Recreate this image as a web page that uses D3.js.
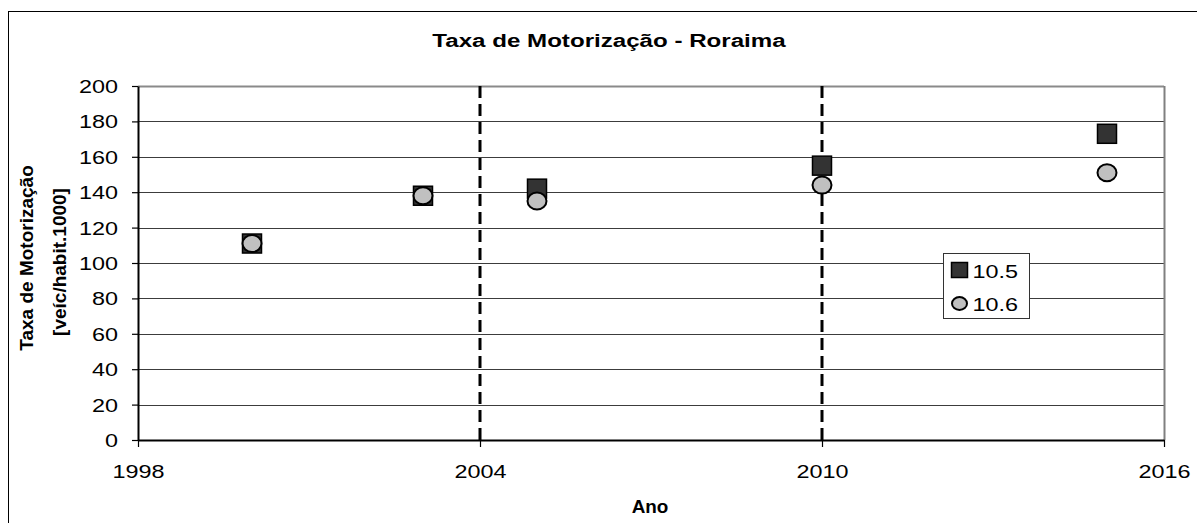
<!DOCTYPE html>
<html>
<head>
<meta charset="utf-8">
<script src="https://cdn.jsdelivr.net/npm/d3@7"></script>
<style>
  html, body { margin: 0; padding: 0; background: #fff; }
  svg { display: block; font-family: "Liberation Sans", Arial, sans-serif; }
</style>
</head>
<body>
<svg id="chart" width="1197" height="523"></svg>
<script>
// Taxa de motorização de Roraima, duas séries (10.5 e 10.6)
const years = [2000, 2003, 2005, 2010, 2015];
const serie105 = [111, 138, 142, 155, 173];
const serie106 = [111, 138, 135, 144, 151];
const xTicks = [1998, 2004, 2010, 2016];
const yTicks = [0, 20, 40, 60, 80, 100, 120, 140, 160, 180, 200];
const dashedYears = [2004, 2010];
const seriesNames = ["10.5", "10.6"];

const svg = d3.select("#chart");
const W = 1197, H = 523;
const plot = { left: 138, right: 1164, top: 86, bottom: 440 };
const SX = 1.3; // horizontal stretch of the text glyphs

const x = d3.scaleLinear().domain([1998, 2016]).range([plot.left, plot.right]);
const y = d3.scaleLinear().domain([0, 200]).range([plot.bottom, plot.top]);

svg.append("rect").attr("width", W).attr("height", H).attr("fill", "#fff");

// outer frame
svg.append("rect")
  .attr("x", 8.5).attr("y", 11.5)
  .attr("width", W + 20).attr("height", H + 20)
  .attr("fill", "none").attr("stroke", "#000").attr("stroke-width", 1);

// stretched horizontal text helper
function label(g, txt, px, py, opts) {
  const o = Object.assign({ size: 18, weight: "normal", anchor: "middle", sx: SX }, opts || {});
  return g.append("text")
    .attr("transform", `translate(${px},${py}) scale(${o.sx},1)`)
    .attr("text-anchor", o.anchor)
    .attr("font-size", o.size)
    .attr("font-weight", o.weight)
    .attr("fill", "#000")
    .text(txt);
}

// horizontal grid lines
svg.append("g").selectAll("line")
  .data(yTicks.filter(v => v > 0))
  .join("line")
  .attr("x1", plot.left).attr("x2", plot.right)
  .attr("y1", d => Math.round(y(d)) + 0.5).attr("y2", d => Math.round(y(d)) + 0.5)
  .attr("stroke", d => d === 200 ? "#8a8a8a" : "#3c3c3c")
  .attr("stroke-width", d => d === 200 ? 2 : 1);

// right edge of the plot area
svg.append("line")
  .attr("x1", plot.right + 0.5).attr("x2", plot.right + 0.5)
  .attr("y1", plot.top).attr("y2", plot.bottom)
  .attr("stroke", "#808080").attr("stroke-width", 2);

// vertical dashed reference lines
svg.append("g").selectAll("line")
  .data(dashedYears)
  .join("line")
  .attr("x1", d => x(d)).attr("x2", d => x(d))
  .attr("y1", plot.top).attr("y2", plot.bottom)
  .attr("stroke", "#000").attr("stroke-width", 3)
  .attr("stroke-dasharray", "12,6");

// y axis
const yAxis = svg.append("g")
  .attr("transform", `translate(${plot.left},0)`)
  .call(d3.axisLeft(y).tickValues(yTicks).tickSize(6).tickSizeOuter(0).tickPadding(0));
yAxis.select(".domain").attr("stroke", "#000").attr("stroke-width", 2);
yAxis.selectAll(".tick line").attr("stroke", "#000").attr("stroke-width", 1.2);
yAxis.selectAll(".tick text").remove();
yAxis.selectAll(".tick").each(function (d) {
  label(d3.select(this), d, -20, 6.5, { anchor: "end" });
});

// x axis
const xAxis = svg.append("g")
  .attr("transform", `translate(0,${plot.bottom})`)
  .call(d3.axisBottom(x).tickValues(xTicks).tickSize(7).tickSizeOuter(0).tickFormat(d3.format("d")));
xAxis.select(".domain").attr("stroke", "#000").attr("stroke-width", 2);
xAxis.selectAll(".tick line").attr("stroke", "#000").attr("stroke-width", 1.2);
xAxis.selectAll(".tick text").remove();
xAxis.selectAll(".tick").each(function (d) {
  label(d3.select(this), d3.format("d")(d), 0, 38);
});

// series 10.5 : dark squares
const sq = 19;
svg.append("g").selectAll("rect")
  .data(years.map((yr, i) => ({ yr, v: serie105[i] })))
  .join("rect")
  .attr("x", d => x(d.yr) - sq / 2).attr("y", d => y(d.v) - sq / 2)
  .attr("width", sq).attr("height", sq)
  .attr("fill", "#333").attr("stroke", "#000").attr("stroke-width", 1.5);

// series 10.6 : grey circles
svg.append("g").selectAll("ellipse")
  .data(years.map((yr, i) => ({ yr, v: serie106[i] })))
  .join("ellipse")
  .attr("cx", d => x(d.yr)).attr("cy", d => y(d.v))
  .attr("rx", 9.5).attr("ry", 8.5)
  .attr("fill", "#c0c0c0").attr("stroke", "#000").attr("stroke-width", 2);

// legend
const lg = svg.append("g").attr("transform", "translate(943.5,253.5)");
lg.append("rect").attr("width", 86).attr("height", 65)
  .attr("fill", "#fff").attr("stroke", "#333").attr("stroke-width", 1);
lg.append("rect").attr("x", 8).attr("y", 9).attr("width", 16).attr("height", 15)
  .attr("fill", "#333").attr("stroke", "#000").attr("stroke-width", 1.5);
lg.append("ellipse").attr("cx", 16).attr("cy", 50).attr("rx", 7.5).attr("ry", 6.5)
  .attr("fill", "#c0c0c0").attr("stroke", "#000").attr("stroke-width", 2);
label(lg, seriesNames[0], 29, 24, { anchor: "start" });
label(lg, seriesNames[1], 29, 57, { anchor: "start" });

// titles
label(svg, "Taxa de Motorização - Roraima", 609, 47, { size: 19, weight: "bold", sx: 1.27 });
label(svg, "Ano", 650, 513, { size: 18, weight: "bold", sx: 1.05 });

const yt = svg.append("g").attr("transform", "translate(0,258)");
yt.append("text").attr("transform", "translate(33,0) rotate(-90)")
  .attr("text-anchor", "middle").attr("font-size", 19).attr("font-weight", "bold")
  .text("Taxa de Motorização");
yt.append("text").attr("transform", "translate(66,4) rotate(-90)")
  .attr("text-anchor", "middle").attr("font-size", 19).attr("font-weight", "bold")
  .text("[veíc/habit.1000]");
</script>
</body>
</html>
